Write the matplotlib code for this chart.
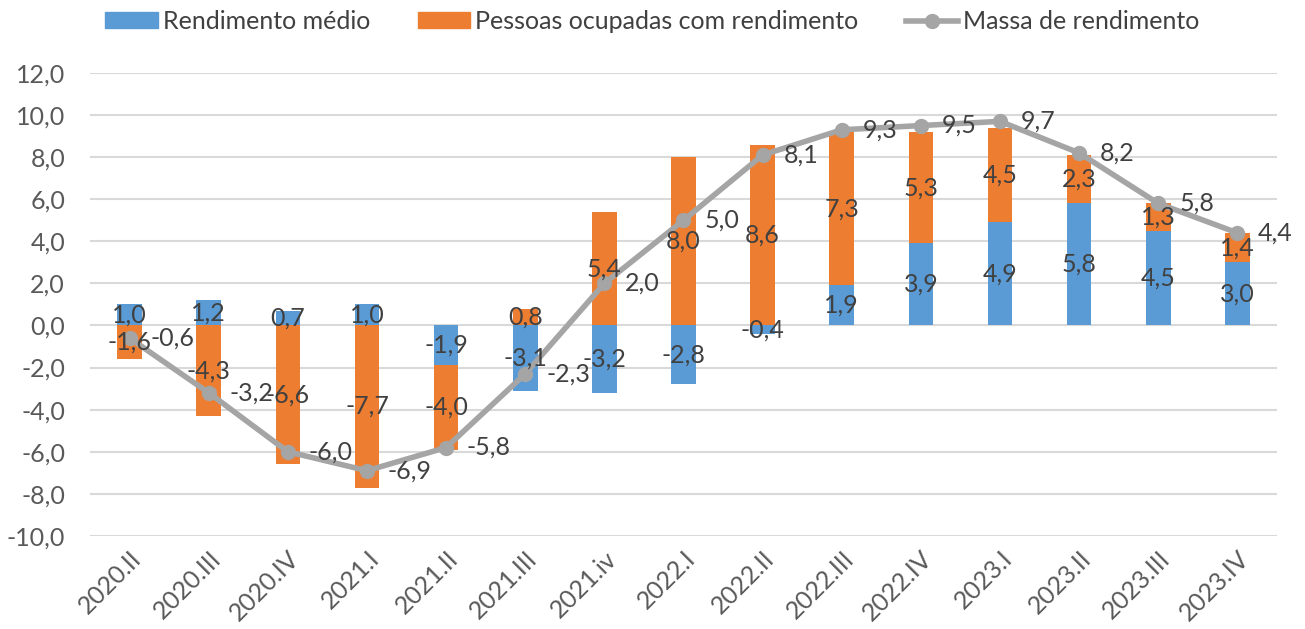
import numpy as np
import matplotlib
matplotlib.use("Agg")
import matplotlib.pyplot as plt
from matplotlib.lines import Line2D
from matplotlib.patches import Patch

plt.rcParams["font.family"] = ["Lato", "DejaVu Sans"]

quarters = ["2020.II", "2020.III", "2020.IV", "2021.I", "2021.II", "2021.III",
            "2021.iv", "2022.I", "2022.II", "2022.III", "2022.IV", "2023.I",
            "2023.II", "2023.III", "2023.IV"]
rend_medio = [1.0, 1.2, 0.7, 1.0, -1.9, -3.1, -3.2, -2.8, -0.4, 1.9, 3.9, 4.9, 5.8, 4.5, 3.0]
pessoas = [-1.6, -4.3, -6.6, -7.7, -4.0, 0.8, 5.4, 8.0, 8.6, 7.3, 5.3, 4.5, 2.3, 1.3, 1.4]
massa = [-0.6, -3.2, -6.0, -6.9, -5.8, -2.3, 2.0, 5.0, 8.1, 9.3, 9.5, 9.7, 8.2, 5.8, 4.4]

BLUE = "#5B9BD5"
ORANGE = "#ED7D31"
GRAY = "#A5A5A5"
TXT = "#404040"
FS = 18


def fmt(v):
    return f"{v:.1f}".replace(".", ",")


fig = plt.figure(figsize=(13.05, 6.29), dpi=100)
ax = fig.add_axes([0.069, 0.148, 0.9095, 0.736])

x = np.arange(len(quarters))
blue = np.array(rend_medio)
orange = np.array(pessoas)
# excel stacks positives and negatives separately
orange_bottom = np.where(np.sign(orange) == np.sign(blue), blue, 0)

w = 0.31
ax.bar(x, blue, w, color=BLUE, zorder=2)
ax.bar(x, orange, w, bottom=orange_bottom, color=ORANGE, zorder=2)
ax.plot(x, massa, color=GRAY, lw=4, marker="o", ms=10, zorder=3)

for i in range(len(x)):
    ax.text(x[i], blue[i] / 2, fmt(blue[i]), ha="center", va="center",
            fontsize=FS, color=TXT, zorder=4)
    ax.text(x[i], orange_bottom[i] + orange[i] / 2, fmt(orange[i]), ha="center",
            va="center", fontsize=FS, color=TXT, zorder=4)
    ax.annotate(fmt(massa[i]), (x[i], massa[i]), xytext=(15, 0),
                textcoords="offset points", ha="left", va="center",
                fontsize=FS, color=TXT, zorder=4)

ax.set_xlim(-0.5, len(x) - 0.5)
ax.set_ylim(-10, 12)
ax.set_yticks(np.arange(-10, 13, 2))
ax.set_yticklabels([fmt(v) for v in np.arange(-10, 13, 2)], fontsize=FS, color="#595959")
ax.set_xticks(x)
ax.set_xticklabels(quarters, rotation=45, ha="right", rotation_mode="anchor",
                   fontsize=FS, color="#595959")
ax.tick_params(length=0)
ax.tick_params(axis="x", pad=8)
ax.tick_params(axis="y", pad=18)
ax.grid(axis="y", color="#D9D9D9", lw=1.5, zorder=0)
for s in ax.spines.values():
    s.set_visible(False)

handles = [
    Patch(color=BLUE),
    Patch(color=ORANGE),
    Line2D([], [], color=GRAY, lw=4, marker="o", ms=10),
]
labels = ["Rendimento médio", "Pessoas ocupadas com rendimento", "Massa de rendimento"]
fig.legend(handles, labels, loc="upper center", bbox_to_anchor=(0.5, 1.02), ncol=3,
           frameon=False, fontsize=FS, handlelength=2.1, handleheight=0.6,
           columnspacing=1.9, handletextpad=0.2, labelcolor=TXT)

fig.savefig("out.png", dpi=100)
